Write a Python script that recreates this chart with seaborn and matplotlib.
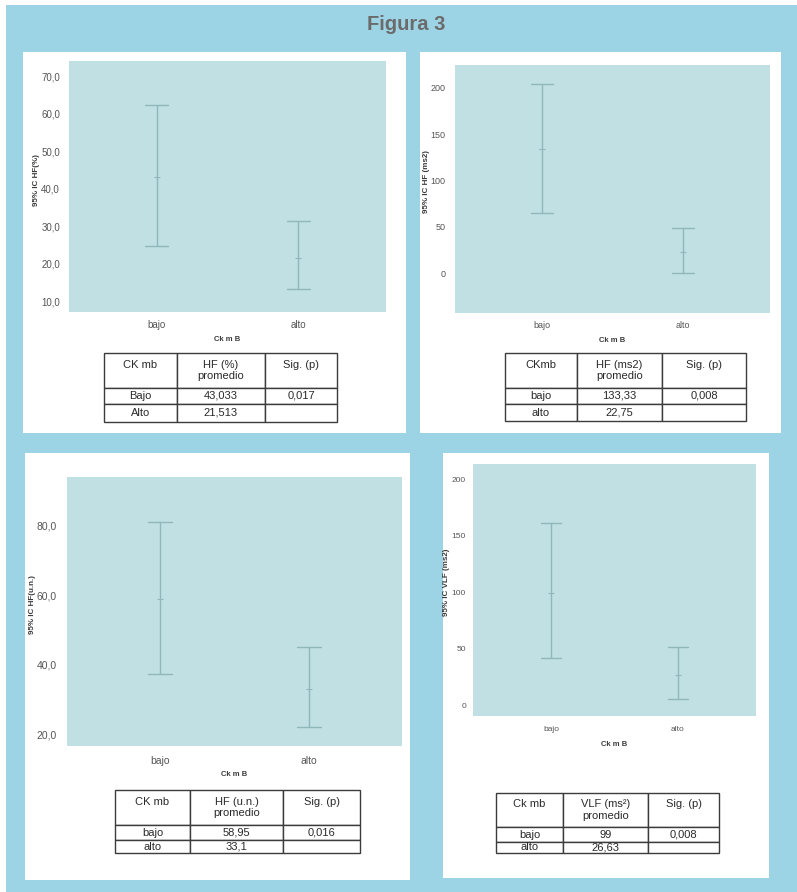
import numpy as np
import pandas as pd
import matplotlib
matplotlib.use("Agg")
import matplotlib.pyplot as plt
import seaborn as sns
from matplotlib.patches import Rectangle

# ---------------- data ----------------
groups = ["bajo", "alto"]

hf_pct_mean = [43.03, 21.51]
hf_pct_lo = [24.6, 13.1]
hf_pct_hi = [62.3, 31.3]

hf_ms2_mean = [133.33, 22.75]
hf_ms2_lo = [65.3, 0.6]
hf_ms2_hi = [204.0, 48.5]

hf_un_mean = [58.95, 33.1]
hf_un_lo = [37.4, 22.0]
hf_un_hi = [81.2, 45.1]

vlf_mean = [99.0, 26.63]
vlf_lo = [41.3, 5.0]
vlf_hi = [160.8, 51.0]

p1_yticks = [10, 20, 30, 40, 50, 60, 70]
p1_yticklabels = ["10,0", "20,0", "30,0", "40,0", "50,0", "60,0", "70,0"]
p2_yticks = [0, 50, 100, 150, 200]
p2_yticklabels = ["0", "50", "100", "150", "200"]
p3_yticks = [20, 40, 60, 80]
p3_yticklabels = ["20,0", "40,0", "60,0", "80,0"]
p4_yticks = [0, 50, 100, 150, 200]
p4_yticklabels = ["0", "50", "100", "150", "200"]

p1_ylabel = "95% IC HF(%)"
p2_ylabel = "95% IC HF (ms2)"
p3_ylabel = "95% IC HF(u.n.)"
p4_ylabel = "95% IC VLF (ms2)"
x_label = "Ck m B"

t1_header = ["CK mb", "HF (%)\npromedio", "Sig. (p)"]
t1_rows = [["Bajo", "43,033", "0,017"], ["Alto", "21,513", ""]]
t2_header = ["CKmb", "HF (ms2)\npromedio", "Sig. (p)"]
t2_rows = [["bajo", "133,33", "0,008"], ["alto", "22,75", ""]]
t3_header = ["CK mb", "HF (u.n.)\npromedio", "Sig. (p)"]
t3_rows = [["bajo", "58,95", "0,016"], ["alto", "33,1", ""]]
t4_header = ["Ck mb", "VLF (ms\u00b2)\npromedio", "Sig. (p)"]
t4_rows = [["bajo", "99", "0,008"], ["alto", "26,63", ""]]

title = "Figura 3"

# ---------------- style ----------------
sns.set_theme(style="white")
plt.rcParams["font.family"] = ["Liberation Sans", "DejaVu Sans"]

W, H = 797, 892
fig = plt.figure(figsize=(W / 100, H / 100), dpi=100)
fig.patch.set_facecolor("white")

BLUE = "#9dd4e5"
PLOT_BG = "#c0e0e4"
LINE = "#90b8bb"


def frect(x0, y0, x1, y1, color, z=-2):
    r = Rectangle((x0 / W, 1 - y1 / H), (x1 - x0) / W, (y1 - y0) / H,
                  transform=fig.transFigure, facecolor=color, edgecolor="none",
                  zorder=z)
    fig.add_artist(r)


def fax(x0, y0, x1, y1):
    return fig.add_axes([x0 / W, 1 - y1 / H, (x1 - x0) / W, (y1 - y0) / H])


# background and white panels
frect(6, 5, W, H, BLUE, z=-3)
frect(23, 52, 406, 433, "white")
frect(420, 52, 781, 433, "white")
frect(25, 453, 410, 880, "white")
frect(443, 453, 769, 878, "white")

fig.text(406 / W, 1 - 24 / H, title, ha="center", va="center",
         fontsize=14.5, fontweight="bold", color="#6b6b6b")


def panel(box, mean, lo, hi, ylim, yticks, yticklabels, ylabel,
          ylab_xy, xlab_y, fs, tickpad_y, tickpad_x):
    ax = fax(*box)
    rows = []
    for g, l, m, h in zip(groups, lo, mean, hi):
        for v in (l, m, h):
            rows.append({"grupo": g, "valor": v})
    df = pd.DataFrame(rows)
    sns.pointplot(data=df, x="grupo", y="valor", order=groups,
                  estimator="median", errorbar=("pi", 100), capsize=0.16,
                  color=LINE, linestyle="none", marker="_", markersize=4,
                  markeredgewidth=0.8, err_kws={"linewidth": 1.0}, ax=ax)
    ax.set_facecolor(PLOT_BG)
    for s in ax.spines.values():
        s.set_visible(False)
    ax.set_xlim(-0.62, 1.62)
    ax.set_ylim(*ylim)
    ax.set_yticks(yticks)
    ax.set_yticklabels(yticklabels)
    ax.tick_params(axis="y", length=0, pad=tickpad_y, labelsize=fs,
                   labelcolor="#555555")
    ax.tick_params(axis="x", length=0, pad=tickpad_x, labelsize=fs,
                   labelcolor="#555555")
    ax.set_ylabel(ylabel, fontsize=5.8, fontweight="bold", color="#3a3a3a")
    ax.yaxis.set_label_coords(*ylab_xy)
    ax.set_xlabel(x_label, fontsize=5.5, fontweight="bold", color="#3a3a3a")
    ax.xaxis.label.set_va("center")
    ax.xaxis.set_label_coords(0.5, xlab_y)
    return ax


def table(box, header, rows, colw, rowh, fs=8):
    ax = fax(*box)
    ax.axis("off")
    cells = [[h if "\n" in h else h + "\n " for h in header]] + rows
    tb = ax.table(cellText=cells, cellLoc="center", bbox=[0, 0, 1, 1])
    tb.auto_set_font_size(False)
    tb.set_fontsize(fs)
    for (r, c), cell in tb.get_celld().items():
        cell.set_width(colw[c])
        cell.set_height(rowh[r])
        cell.set_edgecolor("#3c3c3c")
        cell.set_linewidth(1.0)
        cell.set_facecolor("white")
        cell.get_text().set_color("#2a2a2a")
        cell.PAD = 0.02
    return ax


# panel 1 (axes px: 69..386, 61..312)
panel((69, 61, 386, 312), hf_pct_mean, hf_pct_lo, hf_pct_hi, (7.1, 74.0),
      p1_yticks, p1_yticklabels, p1_ylabel, (-0.09, 0.526), -0.108,
      7, 6.5, 6)
# panel 2 (455..770, 65..313)
panel((455, 65, 770, 313), hf_ms2_mean, hf_ms2_lo, hf_ms2_hi, (-43, 224.4),
      p2_yticks, p2_yticklabels, p2_ylabel, (-0.08, 0.53), -0.109,
      6.5, 7, 6)
# panel 3 (67..402, 477..746)
panel((67, 477, 402, 746), hf_un_mean, hf_un_lo, hf_un_hi, (16.6, 94.1),
      p3_yticks, p3_yticklabels, p3_ylabel, (-0.092, 0.524), -0.105,
      7.5, 7.5, 7.5)
# panel 4 (473..756, 464..716)
panel((473, 464, 756, 716), vlf_mean, vlf_lo, vlf_hi, (-9.7, 213.3),
      p4_yticks, p4_yticklabels, p4_ylabel, (-0.082, 0.53), -0.115,
      6, 5, 7)

table((104, 353, 337, 422), t1_header, t1_rows, [73, 88, 72], [35, 16, 18])
table((505, 353, 746, 421), t2_header, t2_rows, [72, 85, 84], [35, 16, 17])
table((115, 790, 360, 853), t3_header, t3_rows, [75, 93, 77], [35, 15, 13])
table((496, 793, 719, 853), t4_header, t4_rows, [67, 85, 71], [34, 15, 11])

fig.savefig("out.png", dpi=100)
